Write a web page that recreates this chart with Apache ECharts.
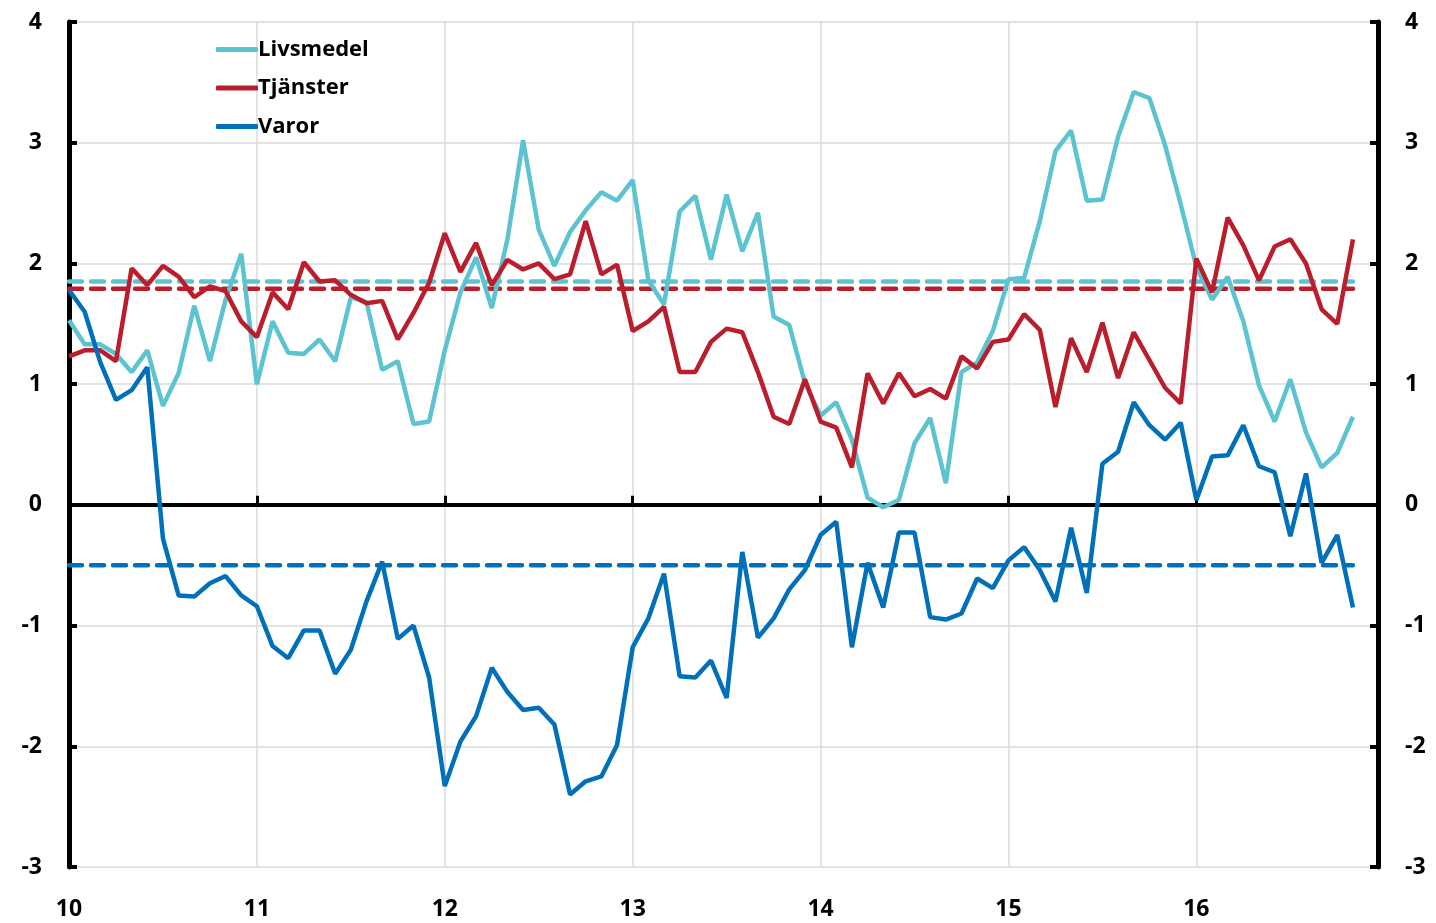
<!DOCTYPE html>
<html>
<head>
<meta charset="utf-8">
<script src="https://cdn.jsdelivr.net/npm/echarts@6/dist/echarts.min.js"></script>
<style>
  html, body { margin: 0; padding: 0; background: #fff; }
  #chart { width: 1436px; height: 923px; }
</style>
</head>
<body>
<div id="chart"></div>
<script>
// månadsdata jan 2010 - nov 2016
var livsmedel = [1.53, 1.33, 1.33, 1.25, 1.10, 1.28, 0.82, 1.09, 1.65, 1.19, 1.70, 2.08,
  1.00, 1.52, 1.26, 1.25, 1.37, 1.19, 1.72, 1.68, 1.12, 1.19, 0.67, 0.69,
  1.28, 1.76, 2.05, 1.63, 2.20, 3.02, 2.28, 1.98, 2.26, 2.44, 2.59, 2.52,
  2.69, 1.86, 1.66, 2.43, 2.56, 2.03, 2.57, 2.10, 2.42, 1.56, 1.49, 1.01,
  0.74, 0.85, 0.54, 0.06, -0.02, 0.04, 0.51, 0.72, 0.18, 1.10, 1.18, 1.44,
  1.87, 1.88, 2.35, 2.93, 3.10, 2.52, 2.53, 3.05, 3.42, 3.37, 2.98, 2.49,
  1.97, 1.70, 1.89, 1.52, 0.99, 0.69, 1.04, 0.60, 0.31, 0.43, 0.73]
var tjanster = [1.23, 1.28, 1.28, 1.19, 1.96, 1.82, 1.98, 1.89, 1.72, 1.81, 1.77, 1.52,
  1.39, 1.76, 1.62, 2.01, 1.85, 1.86, 1.74, 1.67, 1.69, 1.37, 1.59, 1.84,
  2.25, 1.93, 2.17, 1.82, 2.03, 1.95, 2.00, 1.87, 1.91, 2.35, 1.91, 1.99,
  1.44, 1.52, 1.64, 1.10, 1.10, 1.35, 1.46, 1.43, 1.10, 0.73, 0.67, 1.04,
  0.69, 0.64, 0.31, 1.09, 0.84, 1.09, 0.90, 0.96, 0.88, 1.23, 1.13, 1.35,
  1.37, 1.58, 1.45, 0.81, 1.38, 1.10, 1.51, 1.05, 1.43, 1.20, 0.97, 0.84,
  2.04, 1.76, 2.38, 2.15, 1.86, 2.14, 2.20, 2.00, 1.62, 1.50, 2.20]
var varor = [1.78, 1.60, 1.18, 0.87, 0.95, 1.14, -0.28, -0.75, -0.76, -0.65, -0.59, -0.75,
  -0.84, -1.17, -1.27, -1.04, -1.04, -1.40, -1.20, -0.80, -0.47, -1.11, -1.00, -1.43,
  -2.33, -1.96, -1.75, -1.35, -1.55, -1.70, -1.68, -1.82, -2.40, -2.29, -2.25, -1.99,
  -1.18, -0.94, -0.57, -1.42, -1.43, -1.29, -1.60, -0.39, -1.10, -0.94, -0.70, -0.54,
  -0.25, -0.14, -1.18, -0.48, -0.85, -0.23, -0.23, -0.93, -0.95, -0.90, -0.61, -0.69,
  -0.46, -0.35, -0.54, -0.80, -0.19, -0.73, 0.34, 0.44, 0.85, 0.66, 0.54, 0.68,
  0.04, 0.40, 0.41, 0.66, 0.32, 0.27, -0.26, 0.26, -0.48, -0.25, -0.85]
// genomsnitt (streckade linjer)
var snittLivsmedel = 1.85
var snittTjanster = 1.79
var snittVaror = -0.50
var yearLabels = ['10', '11', '12', '13', '14', '15', '16']

var cLiv = '#5CC3D1'
var cTja = '#BA1E2C'
var cVar = '#0070BA'
var labelFont = { fontFamily: 'Open Sans', fontWeight: 'bold', fontSize: 23, color: '#000' }

function toPairs (arr) {
  return arr.map(function (v, i) { return [i, v] })
}
function flat (v, n) {
  return [[0, v], [n - 1, v]]
}
var n = livsmedel.length

var chart = echarts.init(document.getElementById('chart'))
chart.setOption({
  animation: false,
  grid: { left: 69, right: 58, top: 22, bottom: 56 },
  legend: {
    orient: 'vertical',
    left: 211,
    top: 31,
    icon: 'roundRect',
    itemWidth: 42,
    itemHeight: 5,
    itemGap: 11.5,
    data: ['Livsmedel', 'Tjänster', 'Varor'],
    textStyle: { fontFamily: 'Open Sans', fontWeight: 'bold', fontSize: 22, color: '#000', lineHeight: 27, padding: [0, 0, 0, -5] }
  },
  xAxis: [{
    type: 'value',
    min: 0,
    max: 83.6,
    interval: 12,
    axisLine: { show: false, onZero: false },
    axisTick: { show: false },
    splitLine: { show: true, lineStyle: { color: '#DADADA', width: 1.5 } },
    axisLabel: Object.assign({
      margin: 31,
      showMaxLabel: false,
      formatter: function (v) { return yearLabels[v / 12] || '' }
    }, labelFont)
  }, {
    type: 'value',
    min: 0,
    max: 83.6,
    interval: 12,
    position: 'bottom',
    axisLine: { show: true, onZero: true, lineStyle: { color: '#000', width: 4 } },
    axisTick: { show: true, inside: true, length: 9, lineStyle: { color: '#000', width: 3 } },
    axisLabel: { show: false },
    splitLine: { show: false }
  }],
  yAxis: [{
    type: 'value',
    min: -3,
    max: 4,
    interval: 1,
    position: 'left',
    axisLine: { show: true, onZero: false, lineStyle: { color: '#000', width: 5 } },
    axisTick: { show: true, inside: true, length: 8, lineStyle: { color: '#000', width: 4 } },
    splitLine: { show: true, lineStyle: { color: '#DADADA', width: 1.5 } },
    axisLabel: Object.assign({ margin: 27 }, labelFont)
  }, {
    type: 'value',
    min: -3,
    max: 4,
    interval: 1,
    position: 'right',
    axisLine: { show: true, onZero: false, lineStyle: { color: '#000', width: 5 } },
    axisTick: { show: true, inside: true, length: 8, lineStyle: { color: '#000', width: 4 } },
    splitLine: { show: false },
    axisLabel: Object.assign({ margin: 27 }, labelFont)
  }],
  series: [
    {
      name: 'Snitt Livsmedel', type: 'line', symbol: 'none', silent: true,
      data: flat(snittLivsmedel, n),
      lineStyle: { color: cLiv, width: 4.5, type: [13, 9], cap: 'round' }
    },
    {
      name: 'Snitt Tjänster', type: 'line', symbol: 'none', silent: true,
      data: flat(snittTjanster, n),
      lineStyle: { color: cTja, width: 4.5, type: [13, 9], cap: 'round' }
    },
    {
      name: 'Snitt Varor', type: 'line', symbol: 'none', silent: true,
      data: flat(snittVaror, n),
      lineStyle: { color: cVar, width: 4.5, type: [13, 9], cap: 'round' }
    },
    {
      name: 'Livsmedel', type: 'line', symbol: 'none',
      data: toPairs(livsmedel),
      itemStyle: { color: cLiv },
      lineStyle: { color: cLiv, width: 4.5 }
    },
    {
      name: 'Tjänster', type: 'line', symbol: 'none',
      data: toPairs(tjanster),
      itemStyle: { color: cTja },
      lineStyle: { color: cTja, width: 4.5 }
    },
    {
      name: 'Varor', type: 'line', symbol: 'none',
      data: toPairs(varor),
      itemStyle: { color: cVar },
      lineStyle: { color: cVar, width: 4.5 }
    }
  ]
})
</script>
</body>
</html>
